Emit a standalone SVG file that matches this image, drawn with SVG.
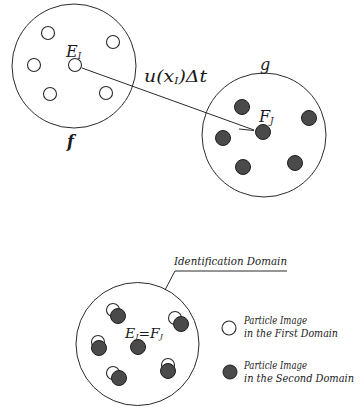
<svg xmlns="http://www.w3.org/2000/svg" width="360" height="409" viewBox="0 0 360 409">
  <style>
    .domain { fill: none; stroke: #2a2a2a; stroke-width: 1; }
    .open { fill: #fff; stroke: #2a2a2a; stroke-width: 1.1; }
    .dot { fill: #4a4a4a; stroke: #1e1e1e; stroke-width: 1; }
    .math { font-family: "DejaVu Serif", serif; font-style: italic; fill: #1a1a1a; }
    .note { font-family: "DejaVu Serif", serif; font-style: italic; font-size: 10.5px; fill: #1a1a1a; }
    .wire { fill: none; stroke: #2a2a2a; stroke-width: 1; }
  </style>

  <rect width="360" height="409" fill="#fff"/>

  <!-- first domain f -->
  <g id="domain-f">
    <circle class="domain" cx="74" cy="66" r="62"/>
    <circle class="open" cx="48" cy="33" r="6.5"/>
    <circle class="open" cx="113" cy="42" r="6.5"/>
    <circle class="open" cx="34" cy="65" r="6.5"/>
    <circle class="open" cx="75" cy="65" r="6.5"/>
    <circle class="open" cx="50" cy="94" r="6.5"/>
    <circle class="open" cx="106" cy="93" r="6.5"/>
    <text class="math" x="66" y="57" font-size="16">E<tspan font-size="9" dy="2">I</tspan></text>
    <text class="math" x="67" y="147" font-size="16" font-weight="bold">f</text>
  </g>

  <!-- second domain g -->
  <g id="domain-g">
    <circle class="domain" cx="264" cy="135" r="62"/>
    <circle class="dot" cx="242" cy="107" r="7.5"/>
    <circle class="dot" cx="309" cy="118" r="7.5"/>
    <circle class="dot" cx="223" cy="138" r="7.5"/>
    <circle class="dot" cx="263" cy="132" r="7.5"/>
    <circle class="dot" cx="243" cy="167" r="7.5"/>
    <circle class="dot" cx="295" cy="163" r="7.5"/>
    <text class="math" x="260" y="70" font-size="16">g</text>
    <text class="math" x="259" y="122" font-size="16">F<tspan font-size="9" dy="2">J</tspan></text>
  </g>

  <!-- displacement vector -->
  <g id="connectors">
    <path class="wire" d="M82,68 L254,130"/>
    <path class="wire" d="M239,129 L254,130.5"/>
    <path class="wire" d="M175,271 L287,271 M175,271 L165,290"/>
  </g>
  <g id="displacement-label">
    <text class="math" x="144" y="82" font-size="16" textLength="63" lengthAdjust="spacingAndGlyphs">u(x<tspan font-size="9" dy="2">I</tspan><tspan dy="-2">)Δt</tspan></text>
  </g>

  <!-- identification domain -->
  <g id="identification-domain">
    <circle class="domain" cx="137.5" cy="344" r="61.5"/>
    <circle class="open" cx="113" cy="310" r="6.5"/>
    <circle class="dot" cx="118" cy="316" r="7.5"/>
    <circle class="open" cx="175" cy="318" r="6.5"/>
    <circle class="dot" cx="181" cy="324" r="7.5"/>
    <circle class="open" cx="98" cy="342" r="6.5"/>
    <circle class="dot" cx="99" cy="348" r="7.5"/>
    <circle class="dot" cx="138" cy="347" r="7.5"/>
    <circle class="open" cx="113" cy="373" r="6.5"/>
    <circle class="dot" cx="119" cy="378" r="7.5"/>
    <circle class="open" cx="168" cy="365" r="6.5"/>
    <circle class="dot" cx="168" cy="371" r="7.5"/>
    <text class="math" x="125" y="338" font-size="12" textLength="38" lengthAdjust="spacingAndGlyphs">E<tspan font-size="7" dy="1">J</tspan><tspan dy="-1">=F</tspan><tspan font-size="7" dy="1">J</tspan></text>
  </g>
  <g id="identification-label">
    <text class="note" x="174" y="265" font-size="12" textLength="113" lengthAdjust="spacingAndGlyphs">Identification Domain</text>
  </g>

  <!-- legend -->
  <g id="legend-first">
    <circle class="open" cx="229" cy="328" r="7"/>
    <text class="note" x="244" y="324" textLength="63" lengthAdjust="spacingAndGlyphs">Particle Image</text>
    <text class="note" x="244" y="337" textLength="94" lengthAdjust="spacingAndGlyphs">in the First Domain</text>
  </g>
  <g id="legend-second">
    <circle class="dot" cx="230" cy="372" r="7"/>
    <text class="note" x="244" y="369" textLength="63" lengthAdjust="spacingAndGlyphs">Particle Image</text>
    <text class="note" x="244" y="382" textLength="110" lengthAdjust="spacingAndGlyphs">in the Second Domain</text>
  </g>
</svg>
